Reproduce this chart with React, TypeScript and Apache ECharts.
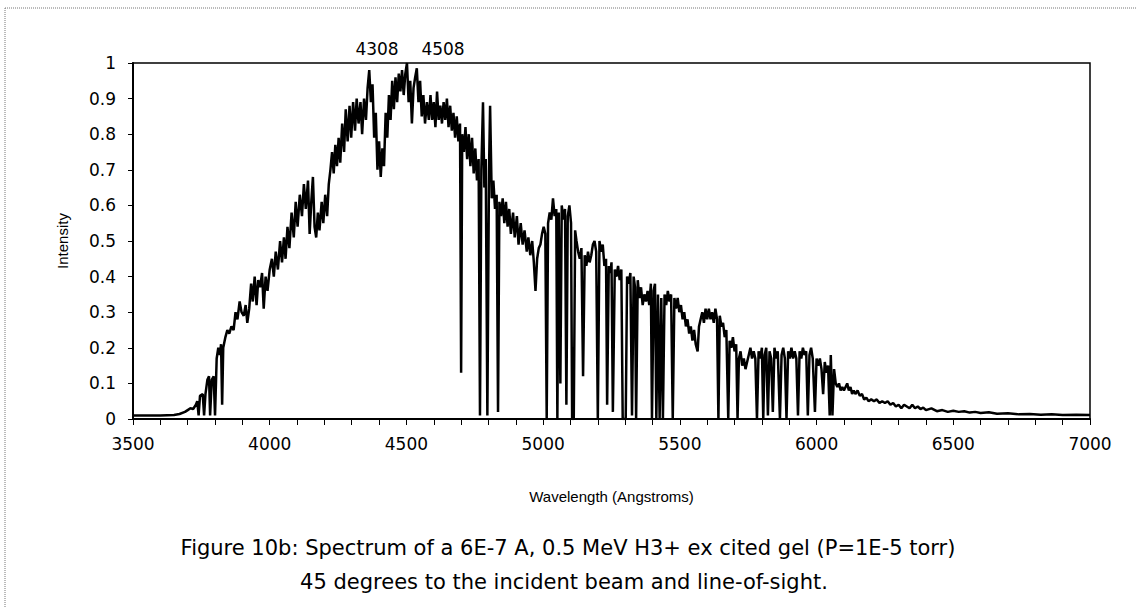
import React, { useEffect, useRef } from "react";
import * as echarts from "echarts";

// Wavelength (Angstroms) / relative intensity pairs
const riseEdge: [number, number][] = [
  [3500, 0.01], [3600, 0.01], [3650, 0.011], [3670, 0.014], [3690, 0.02], [3700, 0.025],
  [3710, 0.03], [3720, 0.028], [3730, 0.04], [3735, 0.05], [3740, 0.01], [3745, 0.065],
  [3755, 0.07], [3760, 0.01], [3765, 0.07], [3772, 0.11], [3778, 0.12], [3782, 0.01],
  [3788, 0.11], [3795, 0.12], [3800, 0.01], [3806, 0.17], [3812, 0.2], [3818, 0.18],
  [3822, 0.21], [3826, 0.04], [3830, 0.2], [3838, 0.23], [3845, 0.25], [3852, 0.24],
  [3860, 0.26], [3868, 0.25], [3875, 0.3], [3882, 0.28], [3890, 0.33], [3897, 0.3],
  [3905, 0.29], [3912, 0.32], [3918, 0.27], [3925, 0.31], [3932, 0.38], [3938, 0.33],
  [3945, 0.4], [3952, 0.32], [3958, 0.39], [3965, 0.37], [3972, 0.41], [3978, 0.31],
  [3985, 0.4], [3992, 0.36],
];

const blueBand: [number, number][] = [
  [4000, 0.42], [4008, 0.45], [4015, 0.4], [4022, 0.47], [4030, 0.42], [4038, 0.5],
  [4045, 0.44], [4052, 0.51], [4058, 0.45], [4065, 0.54], [4072, 0.48], [4080, 0.58],
  [4088, 0.51], [4095, 0.61], [4102, 0.54], [4110, 0.63], [4118, 0.57], [4125, 0.66],
  [4132, 0.59], [4140, 0.67], [4146, 0.52], [4152, 0.61], [4158, 0.68], [4164, 0.54],
  [4170, 0.51], [4176, 0.58], [4182, 0.53], [4190, 0.61], [4196, 0.55], [4203, 0.63],
  [4210, 0.57], [4216, 0.66], [4222, 0.7], [4228, 0.75], [4234, 0.69], [4240, 0.77],
  [4246, 0.71], [4252, 0.79], [4258, 0.72], [4265, 0.83], [4272, 0.75], [4278, 0.87],
  [4285, 0.78], [4292, 0.88], [4298, 0.79], [4305, 0.89], [4312, 0.81], [4318, 0.9],
  [4325, 0.83], [4332, 0.89], [4338, 0.8], [4345, 0.9], [4352, 0.84], [4358, 0.93],
  [4364, 0.98], [4370, 0.89], [4376, 0.94], [4382, 0.79], [4388, 0.86], [4394, 0.7],
  [4400, 0.78], [4406, 0.68], [4412, 0.76], [4418, 0.71], [4424, 0.86], [4430, 0.79],
  [4436, 0.91], [4442, 0.84], [4448, 0.95], [4454, 0.87], [4460, 0.96], [4466, 0.89],
  [4472, 0.97], [4478, 0.92], [4484, 0.98], [4490, 0.91], [4496, 0.97], [4502, 1.0],
  [4508, 0.89], [4514, 0.95], [4520, 0.83], [4526, 0.93], [4532, 0.96], [4538, 0.985],
  [4544, 0.89], [4550, 0.95], [4556, 0.85], [4562, 0.91], [4568, 0.83], [4575, 0.89],
  [4582, 0.84], [4588, 0.91], [4594, 0.84], [4600, 0.89], [4606, 0.82], [4612, 0.92],
  [4618, 0.84], [4624, 0.88], [4630, 0.83], [4636, 0.89], [4642, 0.84], [4648, 0.9],
  [4654, 0.82], [4660, 0.88], [4666, 0.81], [4672, 0.86], [4678, 0.79], [4684, 0.85],
  [4690, 0.78], [4696, 0.83],
];

const absorptionBand: [number, number][] = [
  [4700, 0.13], [4704, 0.8], [4710, 0.75], [4716, 0.82], [4722, 0.73], [4728, 0.8],
  [4734, 0.71], [4740, 0.79], [4746, 0.69], [4752, 0.76], [4758, 0.67], [4764, 0.73],
  [4769, 0.01], [4774, 0.7], [4780, 0.89], [4785, 0.65], [4790, 0.73], [4796, 0.01],
  [4802, 0.7], [4806, 0.88], [4812, 0.62], [4818, 0.67], [4824, 0.59], [4830, 0.63],
  [4835, 0.02], [4840, 0.61], [4846, 0.57], [4852, 0.62], [4858, 0.55], [4864, 0.61],
  [4870, 0.54], [4876, 0.59], [4882, 0.52], [4890, 0.58], [4896, 0.51], [4904, 0.57],
  [4910, 0.49], [4918, 0.55], [4925, 0.49], [4932, 0.53], [4940, 0.47], [4946, 0.51],
  [4953, 0.46], [4960, 0.5], [4966, 0.44], [4972, 0.36], [4978, 0.45], [4984, 0.48],
  [4990, 0.49], [4996, 0.52], [5002, 0.54], [5008, 0.52], [5013, 0.0], [5018, 0.55],
  [5024, 0.58], [5030, 0.56], [5036, 0.62], [5042, 0.57], [5048, 0.59], [5052, 0.0],
  [5057, 0.58], [5063, 0.1], [5068, 0.6], [5074, 0.56], [5080, 0.59], [5085, 0.04],
  [5090, 0.57], [5096, 0.6], [5102, 0.55], [5106, 0.0], [5112, 0.0], [5117, 0.53],
  [5122, 0.5], [5128, 0.47], [5134, 0.45], [5140, 0.48], [5146, 0.12], [5152, 0.46],
  [5158, 0.43], [5164, 0.47], [5170, 0.44], [5176, 0.46], [5182, 0.49], [5188, 0.5],
  [5194, 0.47], [5200, 0.0], [5206, 0.5], [5212, 0.47], [5218, 0.49], [5224, 0.43],
  [5230, 0.45], [5234, 0.04], [5240, 0.43], [5246, 0.41], [5250, 0.44], [5255, 0.02],
  [5262, 0.42], [5268, 0.4], [5274, 0.43], [5280, 0.39], [5286, 0.42], [5291, 0.0],
  [5296, 0.0], [5302, 0.0], [5307, 0.4], [5313, 0.38], [5319, 0.41], [5325, 0.01],
  [5331, 0.4], [5336, 0.37], [5340, 0.0], [5346, 0.39], [5352, 0.34], [5358, 0.37],
  [5364, 0.32], [5370, 0.35], [5376, 0.33], [5382, 0.36], [5388, 0.32], [5394, 0.38],
  [5398, 0.0], [5404, 0.36], [5409, 0.38], [5414, 0.0], [5420, 0.35], [5426, 0.0],
  [5432, 0.34], [5438, 0.0], [5444, 0.35], [5450, 0.32], [5456, 0.36], [5462, 0.33],
  [5468, 0.35], [5474, 0.0], [5480, 0.34], [5486, 0.31], [5492, 0.34], [5498, 0.3],
];

const redBand: [number, number][] = [
  [5504, 0.32], [5510, 0.28], [5516, 0.3], [5522, 0.26], [5528, 0.28], [5534, 0.24],
  [5540, 0.26], [5546, 0.22], [5552, 0.25], [5558, 0.21], [5565, 0.19], [5570, 0.26],
  [5576, 0.28], [5582, 0.3], [5588, 0.27], [5594, 0.31], [5600, 0.28], [5606, 0.31],
  [5612, 0.28], [5618, 0.3], [5624, 0.27], [5630, 0.31], [5636, 0.28], [5641, 0.0],
  [5646, 0.29], [5652, 0.26], [5658, 0.27], [5664, 0.23], [5670, 0.25], [5677, 0.0],
  [5682, 0.22], [5688, 0.2], [5694, 0.23], [5700, 0.19], [5706, 0.21], [5711, 0.0],
  [5716, 0.17], [5722, 0.19], [5728, 0.15], [5734, 0.17], [5740, 0.14], [5746, 0.16],
  [5752, 0.18], [5758, 0.2], [5764, 0.17], [5770, 0.19], [5776, 0.17], [5782, 0.0],
  [5788, 0.19], [5794, 0.17], [5800, 0.2], [5805, 0.0], [5810, 0.18], [5816, 0.2],
  [5822, 0.01], [5828, 0.19], [5834, 0.17], [5840, 0.02], [5846, 0.2], [5852, 0.17],
  [5858, 0.19], [5866, 0.0], [5872, 0.18], [5878, 0.2], [5884, 0.17], [5890, 0.0],
  [5896, 0.19], [5902, 0.17], [5908, 0.2], [5914, 0.17], [5920, 0.19], [5926, 0.17],
  [5932, 0.01], [5938, 0.19], [5944, 0.17], [5950, 0.2], [5956, 0.18], [5962, 0.19],
  [5968, 0.01], [5974, 0.18], [5980, 0.2], [5986, 0.17], [5994, 0.02], [6000, 0.17],
  [6006, 0.15], [6012, 0.17], [6018, 0.14], [6024, 0.07], [6030, 0.16], [6036, 0.13],
  [6042, 0.15], [6048, 0.01], [6052, 0.18], [6058, 0.01], [6064, 0.14],
];

const tail: [number, number][] = [
  [6070, 0.1], [6076, 0.09], [6082, 0.1], [6088, 0.08], [6094, 0.09], [6100, 0.08],
  [6106, 0.09], [6112, 0.1], [6118, 0.08], [6124, 0.09], [6130, 0.07], [6136, 0.08],
  [6142, 0.07], [6150, 0.08], [6158, 0.065], [6166, 0.07], [6174, 0.055], [6182, 0.06],
  [6190, 0.05], [6200, 0.055], [6210, 0.05], [6220, 0.055], [6230, 0.045], [6240, 0.05],
  [6250, 0.045], [6260, 0.05], [6270, 0.04], [6280, 0.045], [6290, 0.035], [6300, 0.04],
  [6310, 0.03], [6320, 0.04], [6330, 0.035], [6340, 0.03], [6350, 0.04], [6360, 0.03],
  [6370, 0.035], [6380, 0.028], [6390, 0.032], [6400, 0.025], [6420, 0.03], [6440, 0.022],
  [6460, 0.025], [6480, 0.02], [6500, 0.023], [6520, 0.02], [6540, 0.022], [6560, 0.018],
  [6580, 0.02], [6600, 0.017], [6630, 0.019], [6660, 0.015], [6700, 0.016], [6740, 0.013],
  [6780, 0.014], [6820, 0.012], [6860, 0.013], [6900, 0.011], [6950, 0.012], [7000, 0.011],
];

const peakLabels: string[] = ["4308", "4508"];
const captionLines: string[] = [
  "Figure 10b: Spectrum of a 6E-7 A, 0.5 MeV H3+ ex cited gel (P=1E-5 torr)",
  "45 degrees to the incident beam and line-of-sight.",
];

const FONT = "'Liberation Sans', Arial, sans-serif";
const WIDE = "'DejaVu Sans', sans-serif";

export default function App() {
  const ref = useRef<HTMLDivElement>(null);

  useEffect(() => {
    if (!ref.current) return;
    const chart = echarts.init(ref.current, null, { renderer: "svg" });
    const spectrum = [...riseEdge, ...blueBand, ...absorptionBand, ...redBand, ...tail];

    chart.setOption({
      animation: false,
      backgroundColor: "#fff",
      grid: {
        left: 133,
        right: 46,
        top: 63,
        bottom: 188,
        show: true,
        borderColor: "#000",
        borderWidth: 1.5,
        backgroundColor: "transparent",
      },
      xAxis: {
        type: "value",
        min: 3500,
        max: 7000,
        interval: 500,
        name: "Wavelength (Angstroms)",
        nameLocation: "middle",
        nameGap: 70,
        nameTextStyle: { color: "#000", fontSize: 15, fontFamily: FONT },
        axisLine: { show: true, onZero: false, lineStyle: { color: "#000", width: 2 } },
        axisTick: { show: true, inside: false, length: 6, lineStyle: { color: "#000", width: 1 } },
        minorTick: { show: true, splitNumber: 5, length: 6, lineStyle: { color: "#000", width: 1 } },
        splitLine: { show: false },
        axisLabel: {
          color: "#000",
          fontSize: 17,
          fontFamily: WIDE,
          margin: 16,
          formatter: (v: number) => String(v),
        },
      },
      yAxis: {
        type: "value",
        min: 0,
        max: 1,
        interval: 0.1,
        name: "Intensity",
        nameLocation: "middle",
        nameGap: 63,
        nameRotate: 90,
        nameTextStyle: { color: "#000", fontSize: 15, fontFamily: FONT },
        axisLine: { show: true, onZero: false, lineStyle: { color: "#000", width: 2 } },
        axisTick: { show: true, inside: false, length: 5, lineStyle: { color: "#000", width: 1 } },
        splitLine: { show: false },
        axisLabel: {
          color: "#000",
          fontSize: 17,
          fontFamily: WIDE,
          margin: 17,
          formatter: (v: number) => String(Math.round(v * 10) / 10),
        },
      },
      series: [
        {
          type: "line",
          data: spectrum,
          showSymbol: false,
          lineStyle: { color: "#000", width: 2.5 },
          emphasis: { disabled: true },
        },
      ],
      graphic: [
        {
          type: "line",
          shape: { x1: 5, y1: 8, x2: 1136, y2: 8 },
          style: { stroke: "#777", lineWidth: 1, lineDash: [1, 1] },
        },
        {
          type: "line",
          shape: { x1: 5, y1: 8, x2: 5, y2: 607 },
          style: { stroke: "#777", lineWidth: 1, lineDash: [1, 1] },
        },
        {
          type: "text",
          x: 377,
          y: 49,
          style: { text: peakLabels[0], fill: "#000", fontSize: 17, fontFamily: WIDE, align: "center", verticalAlign: "middle" },
        },
        {
          type: "text",
          x: 443,
          y: 49,
          style: { text: peakLabels[1], fill: "#000", fontSize: 17, fontFamily: WIDE, align: "center", verticalAlign: "middle" },
        },
        {
          type: "text",
          x: 568,
          y: 548,
          style: { text: captionLines[0], fill: "#000", fontSize: 21, fontFamily: WIDE, align: "center", verticalAlign: "middle" },
        },
        {
          type: "text",
          x: 564,
          y: 582,
          style: { text: captionLines[1], fill: "#000", fontSize: 21, fontFamily: WIDE, align: "center", verticalAlign: "middle" },
        },
      ],
    });

    return () => chart.dispose();
  }, []);

  return (
    <div
      ref={ref}
      style={{ position: "absolute", left: 0, top: 0, width: 1136, height: 607, background: "#fff" }}
    />
  );
}
